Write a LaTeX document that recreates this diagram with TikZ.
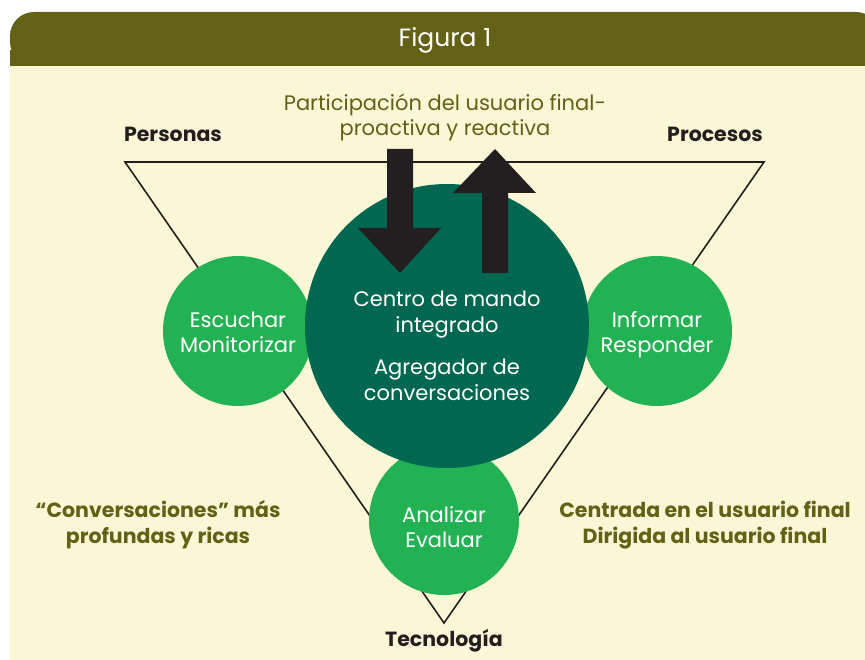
\documentclass[tikz,border=0pt]{standalone}
\usepackage{fontspec}
\setmainfont{Poppins}
\definecolor{headolive}{HTML}{636116}
\definecolor{cream}{HTML}{FAF7D7}
\definecolor{darkgreen}{HTML}{006750}
\definecolor{lightgreen}{HTML}{22B254}
\definecolor{arrowblack}{HTML}{231F20}
\tikzset{
	smallcirc/.style={circle, fill=lightgreen, inner sep=0pt, minimum size=150pt},
	bigcirc/.style={circle, fill=darkgreen, inner sep=0pt, minimum size=284pt},
	circtext/.style={text=white, align=center, font=\fontsize{21}{25}\selectfont},
	cornerlabel/.style={text=arrowblack, font=\bfseries\fontsize{20.5}{22}\selectfont},
	olivetext/.style={text=headolive, align=center, font=\fontsize{21}{25}\selectfont},
	sidetext/.style={text=headolive, align=center, font=\bfseries\fontsize{20.5}{26}\selectfont},
	blockarrow/.style={fill=arrowblack}
}
\begin{document}
\begin{tikzpicture}[x=1pt, y=-1pt]
	\useasboundingbox (0,0) rectangle (865,660);
	\clip (0,0) rectangle (865,660);
	\fill[cream] (10,60) rectangle (865,660);
	\fill[headolive, rounded corners=24pt] (10,66) -- (10,12) -- (880,12) -- (880,66) -- cycle;
	\fill[headolive] (10,50) rectangle (880,66);
	\node[text=white, font=\fontsize{25}{28}\selectfont] (title) at (445,40) {Figura 1};

	\coordinate (pers) at (125,162);
	\coordinate (proc) at (764,162);
	\coordinate (tecn) at (444,623);
	\draw[arrowblack, line width=1.6pt, line join=miter] (pers) -- (proc) -- (tecn) -- cycle;

	\node[cornerlabel] (personas) at (173,134) {Personas};
	\node[cornerlabel] (procesos) at (715,134) {Procesos};
	\node[cornerlabel] (tecnologia) at (444,641) {Tecnología};

	\node[smallcirc] (escuchar) at (238,331) {};
	\node[smallcirc] (informar) at (657,331) {};
	\node[smallcirc] (analizar) at (444,520) {};
	\node[bigcirc] (centro) at (447,326) {};

	\node[circtext, yshift=-4pt] (escuchartext) at (escuchar.center) {\strut Escuchar\\\strut Monitorizar};
	\node[circtext, yshift=-4pt] (informartext) at (informar.center) {\strut Informar\\\strut Responder};
	\node[circtext, yshift=-10pt] (analizartext) at (analizar.center) {\strut Analizar\\\strut Evaluar};
	\node[circtext, font=\fontsize{21}{26}\selectfont] (centrotext) at (447,346)
		{Centro de mando\\integrado\\[16pt]Agregador de\\conversaciones};

	\fill[blockarrow] (387,149) -- (413,149) -- (413,228) -- (441,228) -- (400,273)
		-- (358,228) -- (387,228) -- cycle;
	\fill[blockarrow] (482,273) -- (508,273) -- (508,193) -- (536,193) -- (495,149)
		-- (453,193) -- (482,193) -- cycle;

	\node[olivetext] (participacion) at (445,117) {Participación del usuario final-\\proactiva y reactiva};
	\node[sidetext] (conversaciones) at (158,525) {“Conversaciones” más\\profundas y ricas};
	\node[sidetext] (centrada) at (705,525) {Centrada en el usuario final\\Dirigida al usuario final};
\end{tikzpicture}
\end{document}
